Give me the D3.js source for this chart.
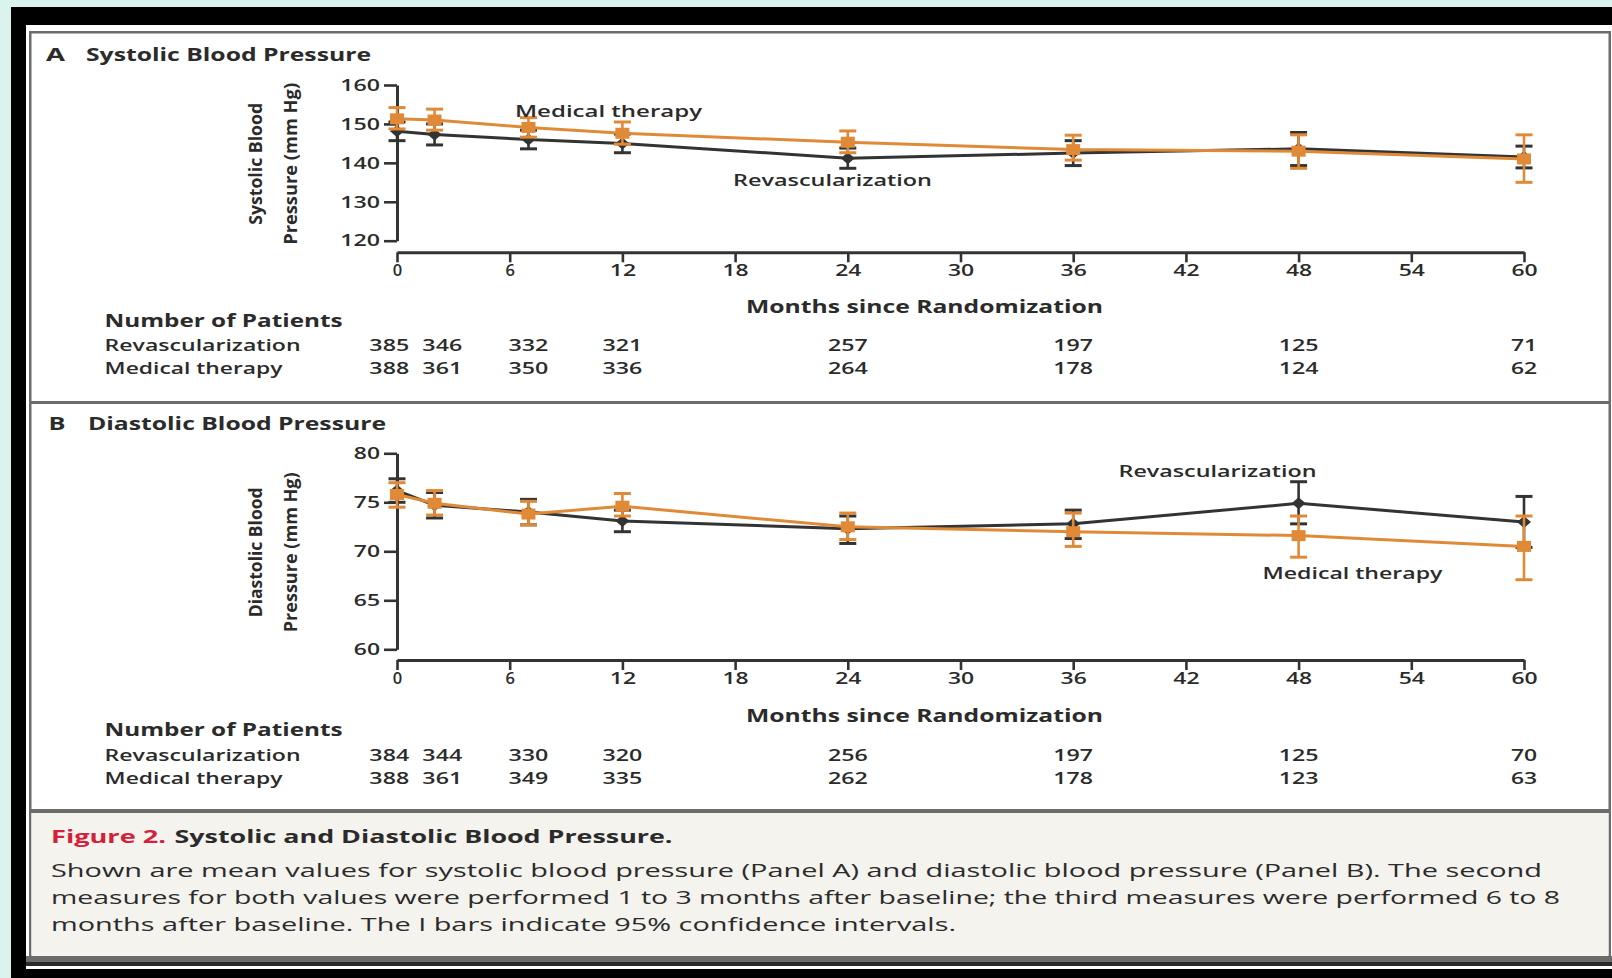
<!DOCTYPE html>
<html>
<head>
<meta charset="utf-8">
<script src="https://cdn.jsdelivr.net/npm/d3@7"></script>
<style>
  html, body { margin: 0; padding: 0; background: #dbf3ee; }
  svg { display: block; }
  text { font-family: "Open Sans", "Noto Sans", "Liberation Sans", sans-serif; fill: #2b2b2b; }
</style>
</head>
<body>
<svg id="chart" width="1612" height="978"></svg>
<script>
// Follow-up visits, months since randomization
const months = [0, 2, 7, 12, 24, 36, 48, 60];
const monthTicks = [0, 6, 12, 18, 24, 30, 36, 42, 48, 54, 60];
const seriesNames = ["Revascularization", "Medical therapy"];

// Panel A: systolic blood pressure (mm Hg), mean with 95% CI
const sbpTicks = [120, 130, 140, 150, 160];
const sbpRevascMean = [148.1, 147.3, 146.0, 145.0, 141.2, 142.5, 143.6, 141.5];
const sbpRevascLow  = [145.7, 144.6, 143.6, 142.6, 138.6, 139.3, 139.3, 138.7];
const sbpRevascHigh = [150.5, 150.0, 148.4, 147.4, 143.8, 145.7, 147.8, 144.3];
const sbpMedMean = [151.3, 151.0, 149.1, 147.6, 145.3, 143.4, 143.0, 141.0];
const sbpMedLow  = [148.7, 148.4, 146.6, 144.8, 142.6, 140.7, 138.6, 135.0];
const sbpMedHigh = [154.2, 153.8, 151.6, 150.5, 148.2, 147.1, 147.2, 147.2];
const sbpRevascN = [385, 346, 332, 321, 257, 197, 125, 71];
const sbpMedN    = [388, 361, 350, 336, 264, 178, 124, 62];

// Panel B: diastolic blood pressure (mm Hg), mean with 95% CI
const dbpTicks = [60, 65, 70, 75, 80];
const dbpRevascMean = [76.2, 74.7, 74.0, 73.1, 72.3, 72.8, 74.9, 73.0];
const dbpRevascLow  = [75.0, 73.4, 72.7, 72.0, 70.8, 71.3, 72.8, 70.4];
const dbpRevascHigh = [77.4, 76.0, 75.3, 74.2, 73.6, 74.2, 77.1, 75.6];
const dbpMedMean = [75.8, 74.9, 73.8, 74.6, 72.5, 72.0, 71.6, 70.5];
const dbpMedLow  = [74.5, 73.7, 72.7, 73.6, 71.2, 70.5, 69.4, 67.1];
const dbpMedHigh = [77.0, 76.2, 75.1, 75.9, 73.9, 73.9, 73.6, 73.6];
const dbpRevascN = [384, 344, 330, 320, 256, 197, 125, 70];
const dbpMedN    = [388, 361, 349, 335, 262, 178, 123, 63];

// Caption
const captionLabel = "Figure 2.";
const captionTitle = "Systolic and Diastolic Blood Pressure.";
const captionLines = [
  "Shown are mean values for systolic blood pressure (Panel A) and diastolic blood pressure (Panel B). The second",
  "measures for both values were performed 1 to 3 months after baseline; the third measures were performed 6 to 8",
  "months after baseline. The I bars indicate 95% confidence intervals."
];

const W = 1612, H = 978;
const ORANGE = "#e08a38", DARK = "#333333", RULE = "#6c6c6c", RED = "#d4203b";

const svg = d3.select("#chart");

// ---- page frame ----
svg.append("rect").attr("width", W).attr("height", H).attr("fill", "#dbf3ee");
svg.append("rect").attr("x", 11).attr("y", 7).attr("width", W - 11).attr("height", H - 7).attr("fill", "#000");
svg.append("rect").attr("x", 26).attr("y", 25).attr("width", W - 26).attr("height", 944).attr("fill", "#fff");
svg.append("rect").attr("x", 30.25).attr("y", 32.25).attr("width", 1579.5).attr("height", 924)
  .attr("fill", "#fff").attr("stroke", RULE).attr("stroke-width", 2.5);
svg.append("rect").attr("x", 31.5).attr("y", 813).attr("width", 1577).attr("height", 143).attr("fill", "#f5f3ee");
svg.append("rect").attr("x", 30).attr("y", 401).attr("width", 1580).attr("height", 3).attr("fill", RULE);
svg.append("rect").attr("x", 30).attr("y", 809).attr("width", 1580).attr("height", 4).attr("fill", RULE);
svg.append("rect").attr("x", 26).attr("y", 956).attr("width", W - 26).attr("height", 6).attr("fill", RULE);
svg.append("rect").attr("x", 26).attr("y", 962).attr("width", W - 26).attr("height", 4).attr("fill", "#2a2a2a");

// text helper: fixed rendered width via textLength
function txt(parent, str, o) {
  const t = parent.append("text")
    .attr("x", o.x || 0).attr("y", o.y || 0)
    .attr("font-size", o.size || 17)
    .attr("font-weight", o.weight || 600)
    .attr("text-anchor", o.anchor || "start")
    .text(str);
  if (o.fill) t.style("fill", o.fill);
  if (o.len) t.attr("textLength", o.len).attr("lengthAdjust", "spacingAndGlyphs");
  if (o.transform) t.attr("transform", o.transform);
  return t;
}
const digitLen = s => String(s).length > 1 ? String(s).length * 13.6 - 1 : null;

const x = d3.scaleLinear().domain([0, 60]).range([397, 1524]);

function styleAxis(a) {
  a.attr("font-family", null).attr("font-size", null);
  a.select(".domain").attr("stroke", DARK).attr("stroke-width", 3);
  a.selectAll(".tick line").attr("stroke", DARK).attr("stroke-width", 2.6);
  a.selectAll(".tick text").attr("font-size", 16.5).attr("font-weight", 600).attr("fill", null)
    .each(function (d) {
      const l = digitLen(d);
      if (l) d3.select(this).attr("textLength", l).attr("lengthAdjust", "spacingAndGlyphs");
    });
}

function drawPanel(p) {
  const g = svg.append("g");
  const y = d3.scaleLinear().domain(p.yDomain).range([p.yBottom, p.yTop]);

  // panel heading
  txt(g, p.letter, { x: p.letterX, y: p.titleY, size: 18, weight: "bold", len: p.letterLen });
  txt(g, p.title, { x: p.titleX, y: p.titleY, size: 18, weight: "bold", len: p.titleLen });

  // y axis
  const ya = g.append("g").attr("transform", `translate(${x(0)},0)`)
    .call(d3.axisLeft(y).tickValues(p.yTicks).tickSize(13).tickSizeOuter(0).tickPadding(4));
  styleAxis(ya);

  // y axis title (two lines, rotated)
  const cy = (p.yTop + p.yBottom) / 2 + 1;
  p.yLabel.forEach((line, i) => {
    txt(g, line, { size: 17, weight: "bold", anchor: "middle", len: p.yLabelLen[i],
      transform: `translate(${p.yLabelX[i]},${cy}) rotate(-90)` });
  });

  // x axis
  const xa = g.append("g").attr("transform", `translate(0,${p.xAxisY})`)
    .call(d3.axisBottom(x).tickValues(monthTicks).tickSize(10).tickSizeOuter(0).tickPadding(2));
  styleAxis(xa);

  txt(g, "Months since Randomization", { x: 746, y: p.xTitleY, size: 17, weight: "bold", len: 357 });

  // series: revascularization (dark) first, medical therapy (orange) on top
  const series = [
    { mean: p.revMean, lo: p.revLow, hi: p.revHigh, color: DARK, marker: "diamond" },
    { mean: p.medMean, lo: p.medLow, hi: p.medHigh, color: ORANGE, marker: "square" }
  ];
  const line = d3.line().x(d => x(d.m)).y(d => y(d.v));
  series.forEach(s => {
    const pts = months.map((m, i) => ({ m, v: s.mean[i], lo: s.lo[i], hi: s.hi[i] }));
    const sg = g.append("g");
    sg.append("path").datum(pts).attr("d", line).attr("fill", "none")
      .attr("stroke", s.color).attr("stroke-width", 3);
    const eb = sg.selectAll("g.eb").data(pts).join("g").attr("class", "eb");
    eb.append("line").attr("x1", d => x(d.m)).attr("x2", d => x(d.m))
      .attr("y1", d => y(d.lo)).attr("y2", d => y(d.hi)).attr("stroke", s.color).attr("stroke-width", 2.6);
    ["lo", "hi"].forEach(k => {
      eb.append("line").attr("x1", d => x(d.m) - 8.5).attr("x2", d => x(d.m) + 8.5)
        .attr("y1", d => y(d[k])).attr("y2", d => y(d[k])).attr("stroke", s.color).attr("stroke-width", 3);
    });
    if (s.marker === "square") {
      eb.append("rect").attr("x", d => x(d.m) - 7).attr("y", d => y(d.v) - 5.5)
        .attr("width", 14).attr("height", 11).attr("fill", s.color);
    } else {
      eb.append("path").attr("transform", d => `translate(${x(d.m)},${y(d.v)})`)
        .attr("d", "M0,-6L7,0L0,6L-7,0Z").attr("fill", s.color);
    }
  });

  // in-plot series labels
  p.seriesLabels.forEach(l => txt(g, seriesNames[l.series], { x: l.x, y: l.y, size: 17, len: l.len }));

  // number-at-risk table
  txt(g, "Number of Patients", { x: 104.6, y: p.tableY[0], size: 17, weight: "bold", len: 238 });
  txt(g, seriesNames[0], { x: 104.6, y: p.tableY[1], size: 17, len: 196 });
  txt(g, seriesNames[1], { x: 104.6, y: p.tableY[2], size: 17, len: 178 });

  // spread apart count labels that would collide
  const cx = months.map(m => x(m));
  const minGap = 53;
  for (let i = 1; i < cx.length; i++) {
    const gap = cx[i] - cx[i - 1];
    if (gap < minGap) { const d = (minGap - gap) / 2; cx[i - 1] -= d; cx[i] += d; }
  }
  [p.revN, p.medN].forEach((arr, r) => {
    g.append("g").selectAll("text").data(arr).join("text")
      .attr("x", (d, i) => cx[i]).attr("y", p.tableY[r + 1])
      .attr("font-size", 16.5).attr("font-weight", 600).attr("text-anchor", "middle")
      .attr("textLength", d => digitLen(d)).attr("lengthAdjust", "spacingAndGlyphs")
      .text(d => d);
  });
}

drawPanel({
  letter: "A", letterX: 46, letterLen: 19,
  title: "Systolic Blood Pressure", titleX: 86, titleLen: 285, titleY: 61,
  yDomain: [120, 160], yBottom: 240.7, yTop: 85, yTicks: sbpTicks,
  yLabel: ["Systolic Blood", "Pressure (mm Hg)"], yLabelLen: [122, 162], yLabelX: [262, 297],
  xAxisY: 252.3, xTitleY: 313, tableY: [327, 350.5, 374],
  revMean: sbpRevascMean, revLow: sbpRevascLow, revHigh: sbpRevascHigh,
  medMean: sbpMedMean, medLow: sbpMedLow, medHigh: sbpMedHigh,
  revN: sbpRevascN, medN: sbpMedN,
  seriesLabels: [
    { series: 1, x: 515, y: 116.5, len: 187 },
    { series: 0, x: 733, y: 186, len: 199 }
  ]
});

drawPanel({
  letter: "B", letterX: 48.5, letterLen: 17,
  title: "Diastolic Blood Pressure", titleX: 88, titleLen: 298, titleY: 430,
  yDomain: [60, 80], yBottom: 649.3, yTop: 453.3, yTicks: dbpTicks,
  yLabel: ["Diastolic Blood", "Pressure (mm Hg)"], yLabelLen: [130, 160], yLabelX: [262, 297],
  xAxisY: 660, xTitleY: 721.5, tableY: [735.5, 760.5, 783.5],
  revMean: dbpRevascMean, revLow: dbpRevascLow, revHigh: dbpRevascHigh,
  medMean: dbpMedMean, medLow: dbpMedLow, medHigh: dbpMedHigh,
  revN: dbpRevascN, medN: dbpMedN,
  seriesLabels: [
    { series: 0, x: 1118.5, y: 477, len: 198 },
    { series: 1, x: 1262.5, y: 579, len: 180 }
  ]
});

// ---- caption ----
const cap = svg.append("g");
txt(cap, captionLabel, { x: 51, y: 843, size: 18, weight: "bold", len: 115, fill: RED });
txt(cap, captionTitle, { x: 174.5, y: 843, size: 18, weight: "bold", len: 498 });
const capLens = [1491, 1509, 905];
captionLines.forEach((l, i) => txt(cap, l, { x: 51, y: 877 + i * 27, size: 18, weight: 500, len: capLens[i] }));
</script>
</body>
</html>
